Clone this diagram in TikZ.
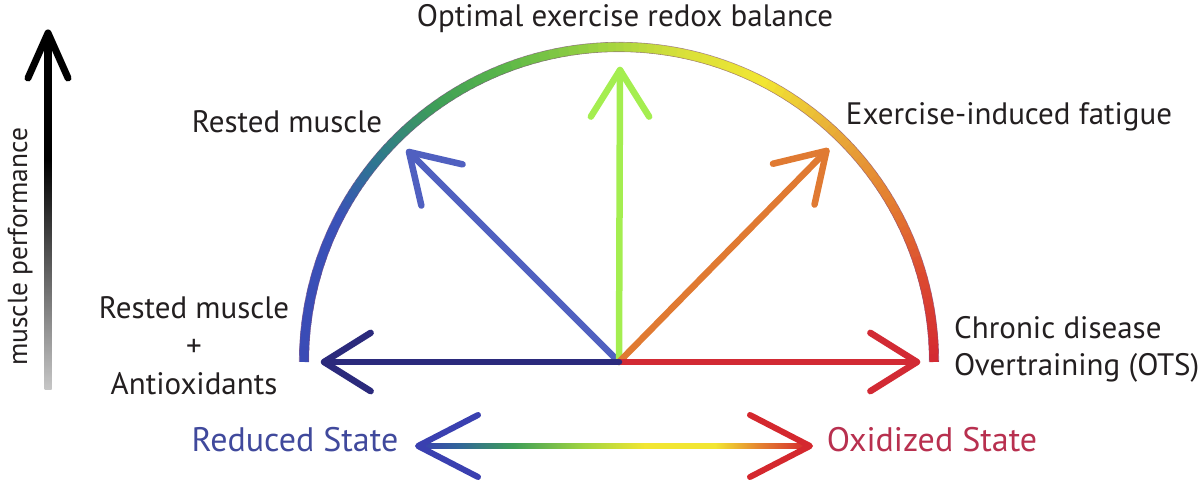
\documentclass[tikz,border=0pt]{standalone}
\usepackage{fontspec}
\setmainfont{PT Sans}
\usetikzlibrary{calc}
\definecolor{txt}{HTML}{231F20}
\definecolor{navy}{HTML}{2B2A7C}
\definecolor{bluearr}{HTML}{5060C0}
\definecolor{greenarr}{HTML}{A4EE50}
\definecolor{orangearr}{HTML}{E07A32}
\definecolor{redarr}{HTML}{D22A34}
\definecolor{redtxt}{HTML}{B8304F}
\definecolor{bluetxt}{HTML}{40499C}
\definecolor{botblue}{HTML}{3A40B0}
\definecolor{botred}{HTML}{D4282E}
% arc colour stops
\definecolor{a0}{HTML}{D42A32}
\definecolor{a1}{HTML}{DC4A30}
\definecolor{a2}{HTML}{E47E30}
\definecolor{a3}{HTML}{E8A838}
\definecolor{a4}{HTML}{F2E632}
\definecolor{a5}{HTML}{D8E03A}
\definecolor{a6}{HTML}{A0D440}
\definecolor{a7}{HTML}{5CB848}
\definecolor{a8}{HTML}{3E9E58}
\definecolor{a9}{HTML}{2E7690}
\definecolor{a10}{HTML}{3A52B8}
\definecolor{a11}{HTML}{3A4AB5}
\pgfdeclarehorizontalshading{redoxshade}{100bp}{color(0bp)=(botblue); color(25bp)=(botblue); color(30bp)=(a9!70!botblue); color(37bp)=(a8); color(46bp)=(a6); color(54bp)=(a4); color(63bp)=(a4); color(69bp)=(a2); color(75bp)=(botred); color(100bp)=(botred)}
\pgfdeclareverticalshading{perfshade}{100bp}{color(0bp)=(black!22); color(25bp)=(black!22); color(58bp)=(black); color(100bp)=(black)}
\tikzset{
  lbl/.style={font=\fontsize{31}{37}\selectfont, text=txt, inner sep=0pt},
  statelbl/.style={font=\fontsize{34}{40}\selectfont, inner sep=0pt},
  fanarrow/.style={line width=6.5pt, line cap=round, line join=round},
}
\begin{document}
\begin{tikzpicture}[x=1pt,y=1pt]
\useasboundingbox (0,0) rectangle (1200,484);
% centre and tips
\coordinate (C) at (619,122);
\def\R{315}
% coloured semicircle
\foreach \s/\e/\ca/\cb in {0/15/a0/a1,15/30/a1/a2,30/45/a2/a3,45/62/a3/a4,62/78/a4/a5,78/92/a5/a6,92/110/a6/a7,110/125/a7/a8,125/140/a8/a9,140/152/a9/a10,152/180/a10/a11}{
  \foreach \k in {0,...,9}{
    \pgfmathsetmacro\aa{\s+(\e-\s)*\k/10}
    \pgfmathsetmacro\bb{min(\s+(\e-\s)*(\k+1.6)/10,180)}
    \pgfmathtruncatemacro\pp{100-10*\k}
    \draw[line width=9.5pt, color=\ca!\pp!\cb] ($(C)+(\aa:\R)$) arc[start angle=\aa, end angle=\bb, radius=\R];
  }
}
\draw[line width=0.6pt, color=violet!40!gray, opacity=0.6] ($(C)+(0:\R+4.75)$) arc[start angle=0,end angle=180,radius=\R+4.75];
\draw[line width=0.6pt, color=violet!40!gray, opacity=0.6] ($(C)+(0:\R-4.75)$) arc[start angle=0,end angle=180,radius=\R-4.75];
% fan arrows
\coordinate (tL) at (324,122);
\coordinate (tB) at ($(C)+(135:297)$);
\coordinate (tG) at (620,414);
\coordinate (tO) at ($(C)+(45.5:296)$);
\coordinate (tR) at (917,122);
\foreach \t/\ang/\col in {tB/135/bluearr, tG/90/greenarr, tO/45.5/orangearr, tR/0/redarr, tL/180/navy}{
  \draw[fanarrow, color=\col] (C) -- (\t);
  \draw[fanarrow, color=\col] ($(\t)+(\ang+148:55)$) -- (\t) -- ($(\t)+(\ang-148:55)$);
}
% muscle performance axis
\coordinate (pB) at (48,94);
\coordinate (pT) at (48,451);
\shade[shading=perfshade] ($(pB)+(-3.5,0)$) rectangle ($(pT)+(3.5,-8)$);
\draw[line width=7pt, line cap=round, line join=round] ($(pT)+(-20,-45)$) -- (pT) -- ($(pT)+(20,-45)$);
\node[lbl, font=\fontsize{27.5}{33}\selectfont, rotate=90, anchor=base] (perf) at (27,237) {muscle performance};
% bottom redox arrow
\coordinate (bL) at (418,38);
\coordinate (bR) at (810,38);
\shade[shading=redoxshade] ($(bL)+(2,-2.5)$) rectangle ($(bR)+(-2,2.5)$);
\draw[line width=6pt, line cap=round, line join=round, color=botblue] ($(bL)+(60,31)$) -- (bL) -- ($(bL)+(60,-31)$);
\draw[line width=6pt, line cap=round, line join=round, color=botred] ($(bR)+(-60,31)$) -- (bR) -- ($(bR)+(-60,-31)$);
% labels
\node[lbl, anchor=base] (opt) at (625,457) {Optimal exercise redox balance};
\node[lbl, anchor=base] (rest) at (287,351) {Rested muscle};
\node[lbl, anchor=base] (fat) at (1009,359) {Exercise-induced fatigue};
\node[lbl, align=center, anchor=north, font=\fontsize{31}{38}\selectfont] (anti) at (194,188) {Rested muscle\\+\\Antioxidants};
\node[lbl, align=left, anchor=north west] (chr) at (954,168) {Chronic disease\\Overtraining (OTS)};
\node[statelbl, anchor=base, text=bluetxt] (red) at (295,32) {Reduced State};
\node[statelbl, anchor=base, text=redtxt] (ox) at (932,32) {Oxidized State};
\end{tikzpicture}
\end{document}
